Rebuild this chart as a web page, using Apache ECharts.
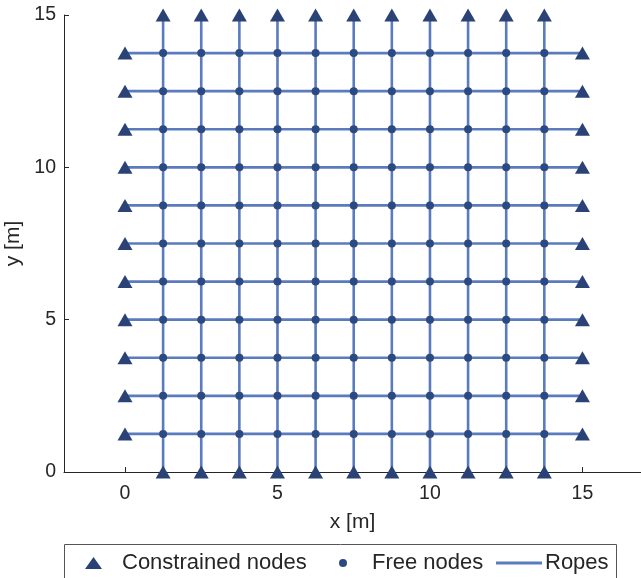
<!DOCTYPE html>
<html>
<head>
<meta charset="utf-8">
<script src="https://cdn.jsdelivr.net/npm/echarts@6/dist/echarts.min.js"></script>
<style>html,body{margin:0;padding:0;background:#fff}#c{width:641px;height:578px}</style>
</head>
<body>
<div id="c"></div>
<script>
// Node coordinates along each direction [m]
var nodeCoords = [0, 1.25, 2.5, 3.75, 5, 6.25, 7.5, 8.75, 10, 11.25, 12.5, 13.75, 15];
var xTicks = [0, 5, 10, 15];
var yTicks = [0, 5, 10, 15];
var xMin = -2, xMax = 16.92, yMin = 0, yMax = 15;

var edgeLow = nodeCoords[0], edgeHigh = nodeCoords[nodeCoords.length - 1];
var interior = nodeCoords.slice(1, nodeCoords.length - 1);

var constrained = [];
interior.forEach(function (v) {
  constrained.push([v, edgeLow]);
  constrained.push([v, edgeHigh]);
  constrained.push([edgeLow, v]);
  constrained.push([edgeHigh, v]);
});
var free = [];
interior.forEach(function (x) {
  interior.forEach(function (y) { free.push([x, y]); });
});

var lineColor = '#5a7bbd';
var dotColor = '#2d4a80';
var triColor = '#2b4276';
var txt = '#262626';
var font = 'Liberation Sans';

var series = [];
interior.forEach(function (v) {
  series.push({ name: 'Ropes', type: 'line', data: [[edgeLow, v], [edgeHigh, v]], showSymbol: false, symbol: 'none',
    lineStyle: { color: lineColor, width: 2.6 }, itemStyle: { color: lineColor }, z: 1, silent: true, animation: false });
  series.push({ name: 'Ropes', type: 'line', data: [[v, edgeLow], [v, edgeHigh]], showSymbol: false, symbol: 'none',
    lineStyle: { color: lineColor, width: 2.6 }, itemStyle: { color: lineColor }, z: 1, silent: true, animation: false });
});
series.push({ name: 'Free nodes', type: 'scatter', data: free, symbol: 'circle', symbolSize: 8,
  itemStyle: { color: dotColor, opacity: 1 }, z: 3, animation: false });
series.push({ name: 'Constrained nodes', type: 'scatter', data: constrained, symbol: 'triangle', symbolSize: [15, 13],
  itemStyle: { color: triColor, opacity: 1 }, z: 4, animation: false });

function legTxt(padLeft) {
  return { color: txt, fontSize: 22, lineHeight: 22, fontFamily: font, padding: [0, 0, 0, padLeft] };
}
var chart = echarts.init(document.getElementById('c'));
chart.setOption({
  animation: false,
  grid: { left: 64, right: 0, top: 15, bottom: 106, containLabel: false, outerBoundsMode: 'none' },
  xAxis: {
    type: 'value', min: xMin, max: xMax,
    name: 'x [m]', nameLocation: 'middle', nameGap: 40,
    nameTextStyle: { color: txt, fontSize: 21, fontFamily: font },
    axisLine: { show: true, onZero: false, lineStyle: { color: txt, width: 1 } },
    axisTick: { show: true, inside: true, length: 5, customValues: xTicks, lineStyle: { color: txt } },
    axisLabel: { customValues: xTicks, color: txt, fontSize: 19.5, fontFamily: font, margin: 12 },
    splitLine: { show: false }
  },
  yAxis: {
    type: 'value', min: yMin, max: yMax,
    name: 'y [m]', nameLocation: 'middle', nameGap: 40, nameRotate: 90,
    nameTextStyle: { color: txt, fontSize: 21, fontFamily: font },
    axisLine: { show: true, onZero: false, lineStyle: { color: txt, width: 1 } },
    axisTick: { show: true, inside: true, length: 5, customValues: yTicks, lineStyle: { color: txt } },
    axisLabel: { customValues: yTicks, color: txt, fontSize: 19.5, fontFamily: font, margin: 8 },
    splitLine: { show: false }
  },
  legend: [
    { data: [{ name: 'Constrained nodes', icon: 'triangle' }], left: 85, top: 552, itemWidth: 17, itemHeight: 12,
      padding: 0, selectedMode: false, textStyle: legTxt(15) },
    { data: [{ name: 'Free nodes', icon: 'circle' }], left: 339, top: 552, itemWidth: 8, itemHeight: 8,
      padding: 0, selectedMode: false, textStyle: legTxt(20) },
    { data: [{ name: 'Ropes', icon: 'rect' }], left: 496, top: 552, itemWidth: 46, itemHeight: 3,
      padding: 0, selectedMode: false, textStyle: legTxt(-2) }
  ],
  graphic: [{ type: 'rect', shape: { x: 64.5, y: 544.5, width: 552, height: 50 },
    style: { fill: 'none', stroke: '#555', lineWidth: 1 }, silent: true }],
  series: series
});
</script>
</body>
</html>
